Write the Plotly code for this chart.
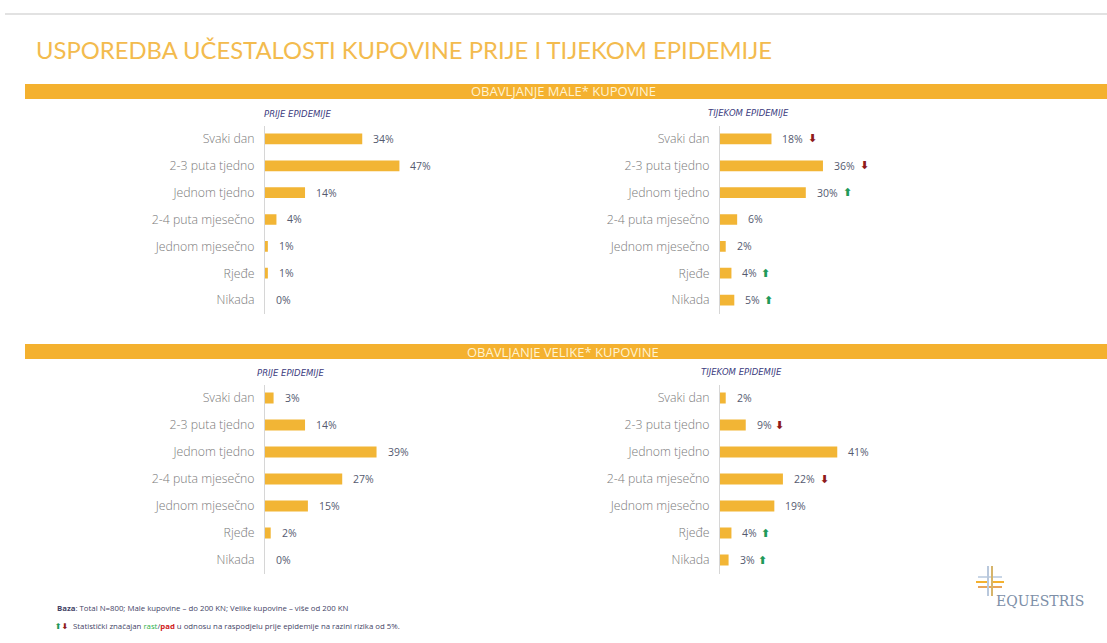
import plotly.graph_objects as go

W, H = 1107, 643

categories = ["Svaki dan", "2-3 puta tjedno", "Jednom tjedno", "2-4 puta mjesečno",
              "Jednom mjesečno", "Rjeđe", "Nikada"]
male_prije = [34, 47, 14, 4, 1, 1, 0]
male_tijekom = [18, 36, 30, 6, 2, 4, 5]
velike_prije = [3, 14, 39, 27, 15, 2, 0]
velike_tijekom = [2, 9, 41, 22, 19, 4, 3]
# significance: +1 rise, -1 fall, 0 none
male_sig = [-1, -1, 1, 0, 0, 1, 1]
velike_sig = [0, -1, 0, -1, 0, 1, 1]

title_text = "USPOREDBA UČESTALOSTI KUPOVINE PRIJE I TIJEKOM EPIDEMIJE"
band_titles = ["OBAVLJANJE MALE* KUPOVINE", "OBAVLJANJE VELIKE* KUPOVINE"]
sub_titles = ["PRIJE EPIDEMIJE", "TIJEKOM EPIDEMIJE"]

BAR = "#F2B535"
BAND = "#F4B12F"
TITLE_C = "#F3BB4E"
LABEL_C = "#555a70"
UP_C = "#1f9a5a"
DOWN_C = "#8e1b1b"
FONT = "Open Sans"


def px_x(p):
    return p / W


def px_y(p):
    return 1 - p / H


panels = [
    # (values, sig, x0px, x1px, y0px(top), y1px(bottom))
    (male_prije, None, 265, 551, 125.5, 313.5),
    (male_tijekom, male_sig, 720, 1006, 125.5, 313.5),
    (velike_prije, None, 265, 551, 384.5, 573.5),
    (velike_tijekom, velike_sig, 720, 1006, 384.5, 573.5),
]

fig = go.Figure()
annotations = []
layout_axes = {}

for i, (vals, sig, x0, x1, yt, yb) in enumerate(panels, start=1):
    xa = "x" if i == 1 else f"x{i}"
    ya = "y" if i == 1 else f"y{i}"
    fig.add_trace(go.Bar(
        x=vals, y=categories, orientation="h", xaxis=xa, yaxis=ya,
        marker=dict(color=BAR, line=dict(width=0)), width=0.4,
        hoverinfo="x+y", showlegend=False,
    ))
    xkey = "xaxis" if i == 1 else f"xaxis{i}"
    ykey = "yaxis" if i == 1 else f"yaxis{i}"
    layout_axes[xkey] = dict(domain=[px_x(x0), px_x(x1)], range=[0, 100],
                             anchor=ya, visible=False, fixedrange=True)
    layout_axes[ykey] = dict(domain=[px_y(yb), px_y(yt)], anchor=xa,
                             type="category", categoryorder="array",
                             categoryarray=categories, autorange="reversed",
                             showline=True, linecolor="#d6d6d6", linewidth=1,
                             showgrid=False, zeroline=False, ticks="",
                             ticklabelstandoff=7, fixedrange=True,
                             tickfont=dict(family=FONT, size=12.3, color="#7a7a7a",
                                           weight=300))
    for j, v in enumerate(vals):
        label = f"{v}%"
        annotations.append(dict(
            x=v, y=categories[j], xref=xa, yref=ya, text=label, showarrow=False,
            xanchor="left", yanchor="middle", xshift=9,
            font=dict(family=FONT, size=10.5, color=LABEL_C)))
        if sig is not None and sig[j] != 0:
            shift = 9 + 7.3 * len(label) + 4
            annotations.append(dict(
                x=v, y=categories[j], xref=xa, yref=ya,
                text="<b>⬆</b>" if sig[j] > 0 else "<b>⬇</b>",
                showarrow=False, xanchor="left", yanchor="middle", xshift=shift,
                font=dict(family="DejaVu Sans", size=11,
                          color=UP_C if sig[j] > 0 else DOWN_C)))

# subtitles
for (txt, xc, yc) in [(sub_titles[0], 297, 114), (sub_titles[1], 748, 113),
                      (sub_titles[0], 290, 373), (sub_titles[1], 741, 372)]:
    annotations.append(dict(x=px_x(xc), y=px_y(yc), xref="paper", yref="paper",
                            text=f"<i>{txt}</i>", showarrow=False,
                            xanchor="center", yanchor="middle",
                            font=dict(family="DejaVu Sans", size=8.5, color="#3d3d80")))

# main title
annotations.append(dict(x=px_x(34), y=px_y(50), xref="paper", yref="paper",
                        text=title_text, showarrow=False, xanchor="left",
                        yanchor="middle",
                        font=dict(family="Lato", size=23.8, color=TITLE_C)))

# bands
shapes = [
    dict(type="line", xref="paper", yref="paper", x0=px_x(5), x1=1,
         y0=px_y(14), y1=px_y(14), line=dict(color="#d8d8d8", width=1.5)),
]
for (ytop, ybot, txt) in [(84, 99, band_titles[0]), (344, 359, band_titles[1])]:
    shapes.append(dict(type="rect", xref="paper", yref="paper",
                       x0=px_x(25), x1=1, y0=px_y(ybot), y1=px_y(ytop),
                       fillcolor=BAND, line=dict(width=0), layer="below"))
    annotations.append(dict(x=px_x(563), y=px_y((ytop + ybot) / 2), xref="paper",
                            yref="paper", text=txt, showarrow=False,
                            xanchor="center", yanchor="middle",
                            font=dict(family=FONT, size=13, color="#fff3d2")))

# footer
annotations.append(dict(
    x=px_x(55), y=px_y(608), xref="paper", yref="paper", showarrow=False,
    xanchor="left", yanchor="middle",
    text="<b>Baza</b>: Total N=800; Male kupovine – do 200 KN; Velike kupovine – više od 200 KN",
    font=dict(family=FONT, size=7.8, color="#444466")))
annotations.append(dict(
    x=px_x(53), y=px_y(626), xref="paper", yref="paper", showarrow=False,
    xanchor="left", yanchor="middle",
    text=(f"<span style='color:{UP_C}'><b>⬆</b></span>"
          f"<span style='color:{DOWN_C}'><b>⬇</b></span>"),
    font=dict(family="DejaVu Sans", size=8)))
annotations.append(dict(
    x=px_x(71), y=px_y(626), xref="paper", yref="paper", showarrow=False,
    xanchor="left", yanchor="middle",
    text=(f"Statistički značajan <span style='color:#2bb04a'>rast</span>/"
          f"<span style='color:#d02020'><b>pad</b></span> u odnosu na raspodjelu "
          f"prije epidemije na razini rizika od 5%."),
    font=dict(family=FONT, size=7.8, color="#444466")))

# logo
annotations.append(dict(x=px_x(1040), y=px_y(601), xref="paper", yref="paper",
                        text="EQUESTRIS", showarrow=False, xanchor="center",
                        yanchor="middle",
                        font=dict(family="DejaVu Serif", size=14, color="#7d8fa8")))
cx, cy = 990, 582
logo_lines = [
    (cx - 14, cy, cx - 3, cy, "#F4B12F"),
    (cx + 3, cy, cx + 14, cy, "#F4B12F"),
    (cx - 12, cy + 5, cx + 12, cy + 5, "#E9A55A"),
    (cx - 12, cy - 5, cx + 12, cy - 5, "#c9d6e6"),
    (cx - 2, cy - 16, cx - 2, cy + 14, "#b9c8dc"),
    (cx + 2, cy - 16, cx + 2, cy + 14, "#d6b46a"),
]
for (a, b, c, d, col) in logo_lines:
    shapes.append(dict(type="line", xref="paper", yref="paper",
                       x0=px_x(a), y0=px_y(b), x1=px_x(c), y1=px_y(d),
                       line=dict(color=col, width=2)))

fig.update_layout(
    width=W, height=H, margin=dict(l=0, r=0, t=0, b=0),
    paper_bgcolor="white", plot_bgcolor="white",
    bargap=0.6, showlegend=False,
    annotations=annotations, shapes=shapes,
    **layout_axes,
)

fig.write_html("out.html", config={"displayModeBar": False},
               post_script="document.body.style.margin='0';document.body.style.overflow='hidden';")
